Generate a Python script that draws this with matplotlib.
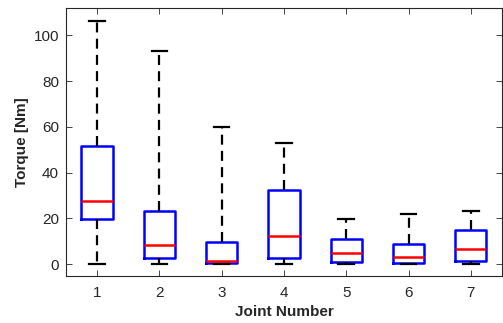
import matplotlib
matplotlib.use('Agg')
import matplotlib.pyplot as plt

plt.rcParams['font.family'] = ['Liberation Sans', 'DejaVu Sans']

joints = [1, 2, 3, 4, 5, 6, 7]
whislo = [0.0, 0.0, 0.0, 0.0, 0.0, 0.0, 0.0]
q1 = [19.8, 2.5, 0.3, 2.5, 1.0, 0.6, 1.3]
med = [27.6, 8.4, 1.5, 12.4, 4.9, 3.2, 6.5]
q3 = [51.5, 23.4, 9.5, 32.6, 10.8, 8.9, 14.8]
whishi = [106.4, 93.1, 59.8, 53.0, 19.7, 21.7, 23.0]

stats = []
for i in range(len(joints)):
    stats.append({'whislo': whislo[i], 'q1': q1[i], 'med': med[i],
                  'q3': q3[i], 'whishi': whishi[i], 'fliers': []})

fig = plt.figure(figsize=(5.03, 3.23), dpi=100)
ax = fig.add_axes([0.131, 0.1455, 0.867, 0.83])

ax.bxp(stats, positions=joints, widths=0.5, showfliers=False,
       boxprops=dict(color='blue', linewidth=1.8),
       medianprops=dict(color='red', linewidth=1.8),
       whiskerprops=dict(color='black', linewidth=1.6, linestyle=(0, (4.5, 2.8))),
       capprops=dict(color='black', linewidth=1.6),
       capwidths=0.25)

ax.set_xlim(0.5, 7.5)
ax.set_ylim(-5.2, 112)
ax.set_yticks([0, 20, 40, 60, 80, 100])
ax.set_xticks(joints)
ax.set_xticklabels([str(j) for j in joints])
ax.tick_params(direction='in', top=True, right=True, length=4,
               labelsize=11, colors='0.15', width=0.6)
ax.tick_params(axis='x', pad=7)
ax.tick_params(axis='y', pad=5)
for s in ax.spines.values():
    s.set_color('0.15')
    s.set_linewidth(0.8)

ax.set_xlabel('Joint Number', fontsize=11, fontweight='bold', color='0.15', labelpad=4)
ax.set_ylabel('Torque [Nm]', fontsize=11, fontweight='bold', color='0.15', labelpad=3)

fig.savefig('out.png', dpi=100)
